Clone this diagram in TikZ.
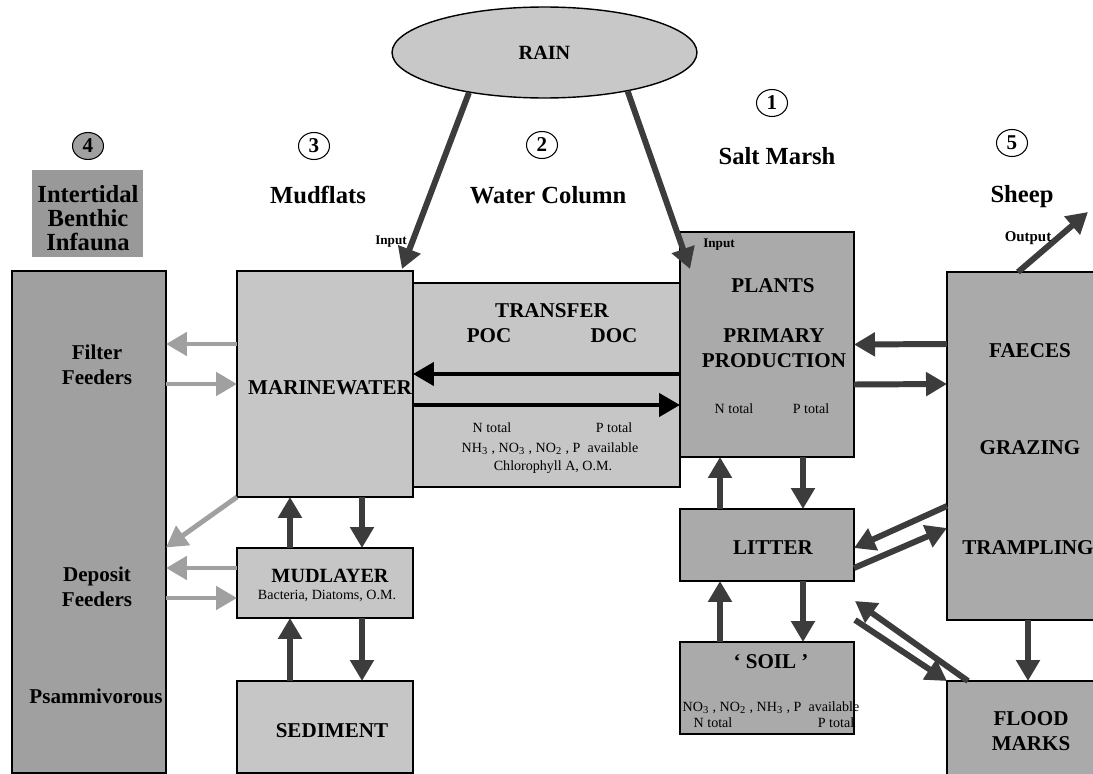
\documentclass[tikz,border=0pt]{standalone}
\usepackage{fontspec}
\setmainfont{Liberation Serif}
\usetikzlibrary{arrows.meta,calc,shapes.geometric}

\definecolor{dunkel}{HTML}{3C3C3C}
\definecolor{hellgrau}{HTML}{C6C6C6}
\definecolor{mittelgrau}{HTML}{AAAAAA}
\definecolor{fauna}{HTML}{A0A0A0}
\definecolor{faunatitel}{HTML}{999999}
\definecolor{regen}{HTML}{C8C8C8}

\begin{document}
\begin{tikzpicture}[x=0.02cm, y=-0.02cm,
	kasten/.style={draw, line width=0.8pt, inner sep=0pt, outer sep=0pt},
	hell/.style={kasten, fill=hellgrau},
	mittel/.style={kasten, fill=mittelgrau},
	nummer/.style={ellipse, draw, line width=0.6pt, fill=white, inner sep=0pt, minimum width=0.62cm, minimum height=0.54cm, font=\fontsize{12}{14}\selectfont\bfseries},
	titel/.style={font=\fontsize{14}{13.6}\selectfont\bfseries},
	gross/.style={font=\fontsize{12}{14.2}\selectfont\bfseries},
	klein/.style={font=\fontsize{8}{9}\selectfont},
	notiz/.style={font=\fontsize{7.5}{9}\selectfont\bfseries},
	spitze/.style={-{Triangle[length=0.42cm, width=0.46cm]}},
	pfeil/.style={spitze, line width=3.4pt, draw=dunkel},
	schwarz/.style={spitze, line width=2.5pt, draw=black},
	grau/.style={spitze, line width=2.8pt, draw=fauna}]
\useasboundingbox (0,0) rectangle (1093,774);

	%% Regen und Ueberschriften
	\node[ellipse, draw, line width=0.8pt, fill=regen, minimum width=6.1cm, minimum height=1.82cm, inner sep=0pt, font=\fontsize{11.5}{13}\selectfont\bfseries] (rain) at (544.5,52.5) {RAIN};

	\node[nummer, fill=fauna] (n4) at (88,146) {4};
	\node[nummer] (n3) at (314,146) {3};
	\node[nummer] (n2) at (542,145) {2};
	\node[nummer] (n1) at (772,103) {1};
	\node[nummer] (n5) at (1012,143) {5};

	\node[fill=faunatitel, inner sep=0pt, minimum width=2.22cm, minimum height=1.74cm] (faunaKopf) at (87.5,213.5) {};
	\node[titel, align=center] (faunaTxt) at (88,218) {Intertidal\\Benthic\\Infauna};
	\node[titel, anchor=base] (mudflats) at (318,203) {Mudflats};
	\node[titel, anchor=base] (water) at (548,203) {Water Column};
	\node[titel, anchor=base] (marsh) at (777,164) {Salt Marsh};
	\node[titel, anchor=base] (sheepTxt) at (1022,202) {Sheep};

	%%%%%%%%%%%%%%%%

	%% Kaesten
	\node[kasten, fill=fauna, minimum width=3.08cm, minimum height=10.04cm] (fauna) at (89,522) {};
	\node[hell, minimum width=5.34cm, minimum height=4.08cm] (transfer) at (546.5,385) {};
	\node[hell, minimum width=3.52cm, minimum height=4.52cm] (marine) at (325,384) {};
	\node[mittel, minimum width=3.48cm, minimum height=4.5cm] (plants) at (767,344.5) {};
	\node[mittel, minimum width=3.32cm, minimum height=6.96cm] (sheep) at (1030,446) {};
	\node[hell, minimum width=3.52cm, minimum height=1.4cm] (mudlayer) at (325,583) {};
	\node[hell, minimum width=3.52cm, minimum height=1.84cm] (sediment) at (325,727) {};
	\node[mittel, minimum width=3.48cm, minimum height=1.44cm] (litter) at (767,545) {};
	\node[mittel, minimum width=3.48cm, minimum height=1.84cm] (soil) at (767,688) {};
	\node[mittel, minimum width=3.32cm, minimum height=2.18cm] (flood) at (1030,735.5) {};

	%% Texte in den Kaesten
	\node[gross, align=center] (filterTxt) at (97,365) {Filter\\Feeders};
	\node[gross, align=center] (depositTxt) at (97,587) {Deposit\\Feeders};
	\node[gross, anchor=base] (psammTxt) at (96,703) {Psammivorous};

	\node[gross, anchor=base] (marineTxt) at (330,394) {MARINEWATER};
	\node[gross, font=\fontsize{11.5}{13}\selectfont\bfseries, anchor=base] (mudTxt) at (330,582) {MUDLAYER};
	\node[klein, anchor=base] (mudKlein) at (327,599) {Bacteria, Diatoms, O.M.};
	\node[gross, anchor=base] (sedTxt) at (332,737) {SEDIMENT};

	\node[gross, anchor=base] (transferTxt) at (552,317) {TRANSFER};
	\node[gross, anchor=base] (poc) at (489,342) {POC};
	\node[gross, anchor=base] (doc) at (614,342) {DOC};
	\node[klein, anchor=base] (trN) at (492,432) {N total};
	\node[klein, anchor=base] (trP) at (614,432) {P total};
	\node[klein, anchor=base] (trNH) at (550,452) {NH\textsubscript{3} , NO\textsubscript{3} , NO\textsubscript{2} , P~ available};
	\node[klein, anchor=base] (trChl) at (553,470) {Chlorophyll A, O.M.};

	\node[gross, anchor=base] (plantsTxt) at (773,292) {PLANTS};
	\node[gross, align=center] (primTxt) at (774,348) {PRIMARY\\PRODUCTION};
	\node[klein, anchor=base] (plN) at (734,413) {N total};
	\node[klein, anchor=base] (plP) at (811,413) {P total};

	\node[gross, anchor=base] (litterTxt) at (773,554) {LITTER};
	\node[gross, anchor=base] (soilTxt) at (771,668) {‘ SOIL ’};
	\node[klein, anchor=base] (soilNO) at (771,711) {NO\textsubscript{3} , NO\textsubscript{2} , NH\textsubscript{3} , P~ available};
	\node[klein, anchor=base] (soilN) at (713,727) {N total};
	\node[klein, anchor=base] (soilP) at (836,727) {P total};

	\node[gross, anchor=base] (faecesTxt) at (1030,357) {FAECES};
	\node[gross, anchor=base] (grazingTxt) at (1030,454) {GRAZING};
	\node[gross, anchor=base] (tramplingTxt) at (1028,554) {TRAMPLING};
	\node[gross, align=center] (floodTxt) at (1031,731.5) {FLOOD\\MARKS};

	%%%%%%%%%%%%%%%%

	%% Pfeile
	\coordinate (ausgang) at (1088,212);
	\coordinate (hochA) at (855,620);
	\coordinate (hochB) at (855,601);

	\draw[pfeil] (rain.208) -- ($(marine.north east)+(-11,-2)$);
	\draw[pfeil] (rain.-25) -- ($(plants.north west)+(10,37)$);
	\node[notiz, anchor=base] (inputL) at (391,244) {Input};
	\node[notiz, anchor=base] (inputR) at (719,247) {Input};
	\draw[pfeil] ($(sheep.north west)+(71,0)$) -- (ausgang);
	\node[notiz, font=\fontsize{8.5}{10}\selectfont\bfseries, anchor=base] (output) at (1028,241) {Output};

	\draw[schwarz] (plants.west |- 0,374) -- ($(marine.east)+(0,-10)$);
	\draw[schwarz] ($(marine.east)+(0,21)$) -- (plants.west |- 0,405);

	\draw[pfeil] ($(sheep.west)+(0,-102)$) -- (plants.east);
	\draw[pfeil] ($(plants.east)+(0,40)$) -- ($(sheep.west)+(0,-62)$);
	\draw[pfeil] ($(litter.north)+(-47,0)$) -- ($(plants.south)+(-47,0)$);
	\draw[pfeil] ($(plants.south)+(36,0)$) -- ($(litter.north)+(36,0)$);
	\draw[pfeil] ($(soil.north)+(-47,0)$) -- ($(litter.south)+(-47,0)$);
	\draw[pfeil] ($(litter.south)+(36,0)$) -- ($(soil.north)+(36,0)$);
	\draw[pfeil] ($(sheep.west)+(0,60)$) -- ($(litter.east)+(0,3)$);
	\draw[pfeil] ($(litter.east)+(0,23)$) -- ($(sheep.west)+(0,82)$);
	\draw[pfeil] (hochA) -- (flood.north west);
	\draw[pfeil] ($(flood.north west)+(21,0)$) -- (hochB);
	\draw[pfeil] ($(sheep.south)+(-2,0)$) -- ($(flood.north)+(-2,0)$);

	\draw[pfeil] ($(mudlayer.north)+(-35,0)$) -- ($(marine.south)+(-35,0)$);
	\draw[pfeil] ($(marine.south)+(37,0)$) -- ($(mudlayer.north)+(37,0)$);
	\draw[pfeil] ($(sediment.north)+(-35,0)$) -- ($(mudlayer.south)+(-35,0)$);
	\draw[pfeil] ($(mudlayer.south)+(37,0)$) -- ($(sediment.north)+(37,0)$);

	\draw[grau] ($(marine.west)+(0,-40)$) -- ($(fauna.east)+(0,-178)$);
	\draw[grau] ($(fauna.east)+(0,-138)$) -- (marine.west);
	\draw[grau] (marine.south west) -- ($(fauna.east)+(0,25.5)$);
	\draw[grau] ($(mudlayer.west)+(0,-15)$) -- ($(fauna.east)+(0,46)$);
	\draw[grau] ($(fauna.east)+(0,76)$) -- ($(mudlayer.west)+(0,15)$);

\end{tikzpicture}
\end{document}
